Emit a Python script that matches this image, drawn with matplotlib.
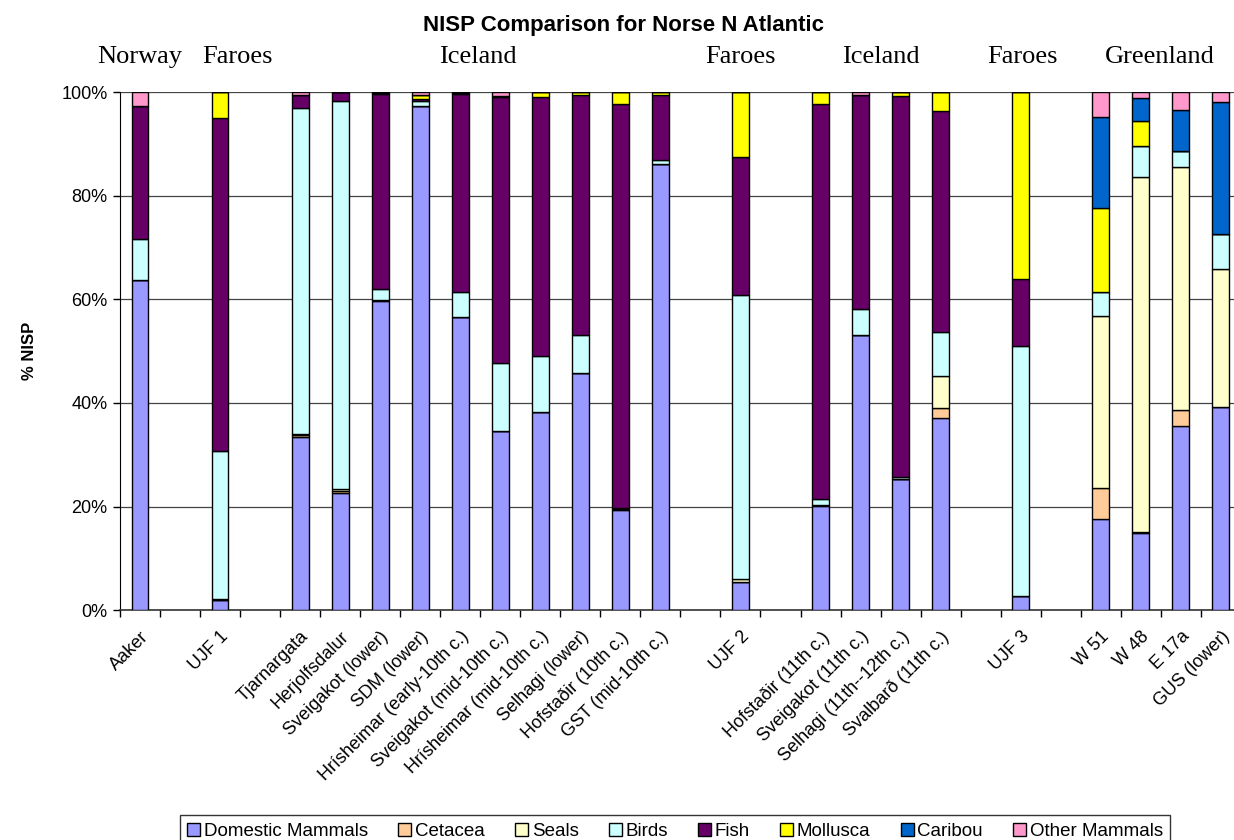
import numpy as np
import matplotlib
matplotlib.use("Agg")
import matplotlib.pyplot as plt
from matplotlib.ticker import FuncFormatter, FixedLocator
from matplotlib.transforms import blended_transform_factory

plt.rcParams['font.family'] = ['Liberation Sans', 'DejaVu Sans']

# sites (blank entries are spacer columns between regions)
sites = ['Aaker', '', 'UJF 1', '', 'Tjarnargata', 'Herjolfsdalur', 'Sveigakot (lower)',
         'SDM (lower)', 'Hrísheimar (early-10th c.)', 'Sveigakot (mid-10th c.)',
         'Hrísheimar (mid-10th c.)', 'Selhagi (lower)', 'Hofstaðir (10th c.)',
         'GST (mid-10th c.)', '', 'UJF 2', '', 'Hofstaðir (11th c.)', 'Sveigakot (11th c.)',
         'Selhagi (11th--12th c.)', 'Svalbarð (11th c.)', '', 'UJF 3', '',
         'W 51', 'W 48', 'E 17a', 'GUS (lower)']

N = None
domestic = [63.8, N, 1.9, N, 33.5, 22.6, 59.7, 97.3, 56.6, 34.5, 38.3, 45.8, 19.3, 86.1,
            N, 5.5, N, 20.1, 53.1, 25.3, 37.1, N, 2.8, N, 17.5, 14.9, 35.5, 39.3]
cetacea = [0, N, 0, N, 0.3, 0.4, 0.2, 0, 0, 0, 0, 0, 0.2, 0,
           N, 0, N, 0.2, 0, 0, 2.0, N, 0, N, 6.0, 0.2, 3.1, 0]
seals = [0, N, 0.2, N, 0.3, 0.3, 0, 0, 0, 0, 0, 0, 0, 0,
         N, 0.4, N, 0, 0, 0, 6.2, N, 0, N, 33.3, 68.5, 47.0, 26.5]
birds = [7.9, N, 28.7, N, 62.9, 75.0, 2.1, 1.0, 4.9, 13.2, 10.7, 7.3, 0.3, 0.9,
         N, 54.9, N, 1.2, 5.0, 0.4, 8.4, N, 48.2, N, 4.7, 6.0, 3.0, 6.9]
fish = [25.6, N, 64.3, N, 2.5, 1.7, 37.8, 0.5, 38.3, 51.4, 50.1, 46.4, 78.0, 12.6,
        N, 26.7, N, 76.3, 41.5, 73.6, 42.8, N, 12.9, N, 0, 0, 0, 0]
mollusca = [0, N, 4.9, N, 0, 0, 0.1, 0.7, 0.1, 0.3, 0.9, 0.5, 2.2, 0.4,
            N, 12.5, N, 2.2, 0, 0.7, 3.5, N, 36.1, N, 16.1, 4.9, 0, 0]
caribou = [0, N, 0, N, 0, 0, 0, 0, 0, 0, 0, 0, 0, 0,
           N, 0, N, 0, 0, 0, 0, N, 0, N, 17.7, 4.4, 8.0, 25.5]
other = [2.7, N, 0, N, 0.5, 0, 0.1, 0.5, 0.1, 0.6, 0, 0, 0, 0,
         N, 0, N, 0, 0.4, 0, 0, N, 0, N, 4.7, 1.1, 3.4, 1.8]

groups = ['Domestic Mammals', 'Cetacea', 'Seals', 'Birds', 'Fish', 'Mollusca',
          'Caribou', 'Other Mammals']
colors = ['#9999FF', '#FFCC99', '#FFFFCC', '#CCFFFF', '#660066', '#FFFF00',
          '#0066CC', '#FF99CC']

regions = ['Norway', 'Faroes', 'Iceland', 'Faroes', 'Iceland', 'Faroes', 'Greenland']
region_x = [0, 2.43, 8.43, 15, 18.5, 22.05, 25.48]

fig = plt.figure(figsize=(12.34, 8.4), dpi=100)
ax = fig.add_axes([0.0972, 0.2738, 0.9084, 0.6161])

x = np.arange(len(sites))
bottom = np.zeros(len(sites))
for name, vals, col in zip(groups, [domestic, cetacea, seals, birds, fish, mollusca, caribou, other], colors):
    v = np.array(vals, dtype=float)
    ax.bar(x, v, 0.42, bottom=bottom, color=col, edgecolor='black', linewidth=1.0,
           label=name, zorder=3)
    bottom = bottom + v

ax.set_xlim(-0.5, len(sites) - 0.5)
ax.set_ylim(0, 100)
ax.set_yticks(np.arange(0, 101, 20))
ax.yaxis.set_major_formatter(FuncFormatter(lambda v, p: f'{v:.0f}%'))
ax.grid(axis='y', color='#444444', linewidth=0.9, zorder=0)
ax.tick_params(axis='y', direction='out', length=5, width=1, labelsize=13, pad=4)

ax.set_xticks(x)
ax.set_xticklabels(sites, rotation=45, ha='right', rotation_mode='anchor', fontsize=13)
ax.tick_params(axis='x', which='major', length=0, pad=13)
ax.xaxis.set_minor_locator(FixedLocator(np.arange(-0.5, len(sites), 1)))
ax.tick_params(axis='x', which='minor', direction='out', length=5, width=1)

for s in ['top', 'right']:
    ax.spines[s].set_visible(False)
ax.spines['left'].set_color('black')
ax.spines['bottom'].set_color('#333333')
ax.spines['bottom'].set_linewidth(1.2)

fig.text(623 / 1234, 1 - 31 / 840, 'NISP Comparison for Norse N Atlantic', ha='center',
         va='baseline', fontsize=16, fontweight='bold')
region_tf = blended_transform_factory(ax.transData, fig.transFigure)
for lab, rx in zip(regions, region_x):
    ax.text(rx, 1 - 63 / 840, lab, transform=region_tf, ha='center', va='baseline',
            fontsize=19, family='Liberation Serif')

fig.text(30 / 1234, 1 - 351 / 840, '% NISP', rotation=90, ha='center', va='center',
         fontsize=12, fontweight='bold')

leg = fig.legend(loc='upper center', bbox_to_anchor=(675 / 1234, 1 - 815 / 840), ncol=8,
                 fontsize=13.5, frameon=True, fancybox=False, edgecolor='black',
                 handlelength=0.7, handleheight=0.7, handletextpad=0.2,
                 columnspacing=1.6, borderpad=0.4, borderaxespad=0)
leg.get_frame().set_linewidth(1.0)

fig.savefig('out.png', dpi=100)
